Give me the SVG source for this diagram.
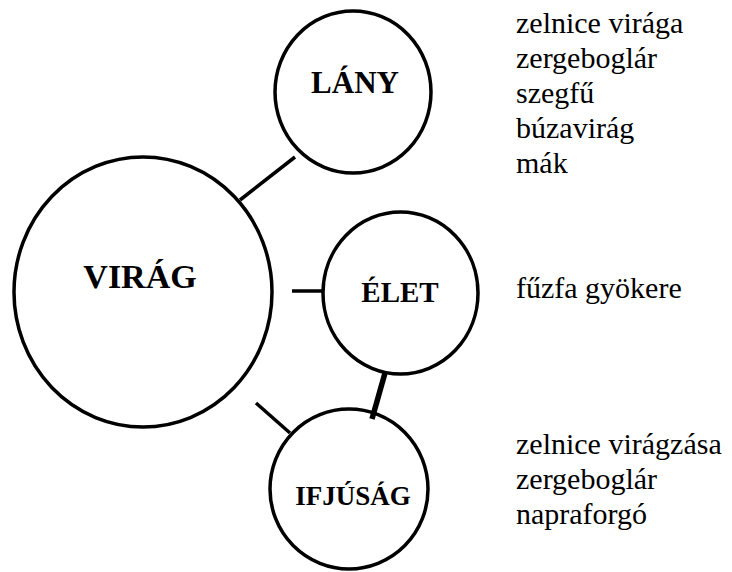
<svg xmlns="http://www.w3.org/2000/svg" width="732" height="572" viewBox="0 0 732 572">
<style>
.node{fill:none;stroke:#000;stroke-width:3.5}
.lbl{font-family:"Liberation Serif","Times New Roman",serif;font-weight:bold;fill:#000;text-anchor:middle}
.item{font-family:"Liberation Serif","Times New Roman",serif;font-size:30px;fill:#000}
.conn{stroke:#000;stroke-width:3.5;fill:none}
</style>
<rect width="732" height="572" fill="#fff"/>
<g id="connectors">
<line class="conn" x1="295" y1="157" x2="240" y2="200"/>
<line class="conn" x1="292" y1="291" x2="323" y2="291"/>
<line class="conn" x1="256" y1="403" x2="290" y2="433"/>
<line class="conn" x1="385" y1="373" x2="372" y2="419" style="stroke-width:5.5"/>
</g>
<g id="virag">
<ellipse class="node" cx="143" cy="292" rx="129" ry="135"/>
<text class="lbl" x="140" y="288" font-size="34">VIRÁG</text>
</g>
<g id="lany">
<ellipse class="node" cx="353" cy="92" rx="78" ry="81"/>
<text class="lbl" x="355" y="93" font-size="31">LÁNY</text>
</g>
<g id="elet">
<ellipse class="node" cx="400.5" cy="293" rx="77.5" ry="81"/>
<text class="lbl" x="400" y="302" font-size="29">ÉLET</text>
</g>
<g id="ifjusag">
<ellipse class="node" cx="349" cy="489" rx="79" ry="80"/>
<text class="lbl" x="353" y="505" font-size="27">IFJÚSÁG</text>
</g>
<g id="lists">
<text class="item" x="516" y="33">zelnice virága</text>
<text class="item" x="516" y="68">zergeboglár</text>
<text class="item" x="516" y="103">szegfű</text>
<text class="item" x="516" y="138">búzavirág</text>
<text class="item" x="516" y="173">mák</text>
<text class="item" x="516" y="298">fűzfa gyökere</text>
<text class="item" x="516" y="454">zelnice virágzása</text>
<text class="item" x="516" y="489">zergeboglár</text>
<text class="item" x="516" y="524">napraforgó</text>
</g>
</svg>
